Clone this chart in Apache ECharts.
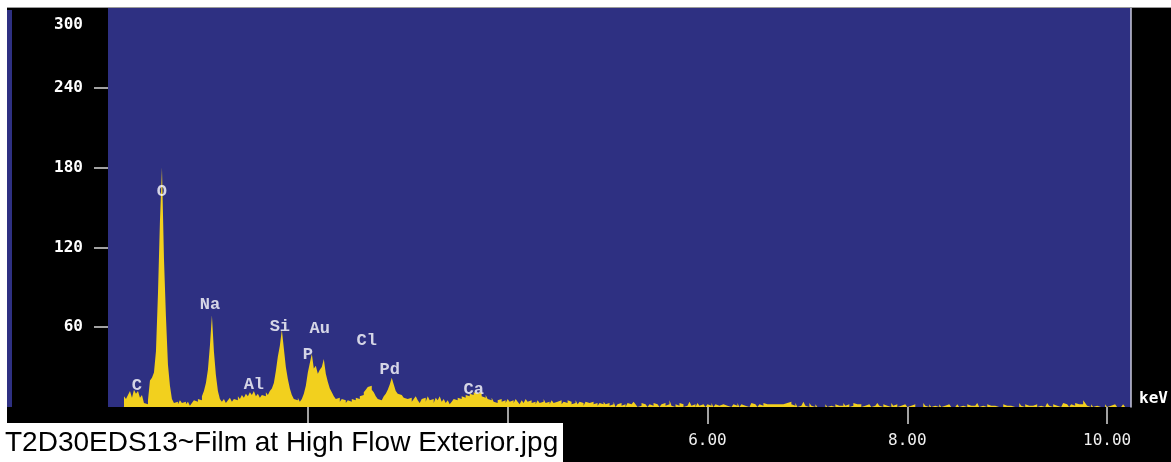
<!DOCTYPE html>
<html>
<head>
<meta charset="utf-8">
<script src="https://cdn.jsdelivr.net/npm/echarts@6/dist/echarts.min.js"></script>
<style>
html,body{margin:0;padding:0;background:#ffffff;}
#chart{width:1171px;height:462px;}
</style>
</head>
<body>
<div id="chart"></div>
<script>
// ---- data ----
const binWidth = 0.02;   // keV per channel
const binStart = 0.0;    // keV of first channel
const counts = [
  // 0.00 - 0.48
  0,0,0,0,0,0,0,0,8,6,9,12,7,13,10,12,7,9,3,2,5,20,22,26,42,
  // 0.50 - 0.98
  85,140,180,112,68,32,16,6,3,4,2,5,3,4,2,4,1,3,5,4,6,5,8,12,18,
  // 1.00 - 1.48
  28,46,69,42,24,12,6,4,6,3,5,7,4,6,5,8,6,9,7,10,8,11,9,12,8,
  // 1.50 - 1.98
  10,7,9,8,11,9,12,14,18,27,38,46,58,44,30,21,14,9,6,5,7,4,6,10,16,
  // 2.00 - 2.48
  26,33,40,29,31,25,28,30,36,25,19,14,11,8,6,7,4,6,5,3,5,4,6,5,7,
  // 2.50 - 2.98
  6,8,9,11,13,15,16,13,11,8,6,5,6,8,10,13,17,22,17,12,10,9,8,7,6,
  // 3.00 - 3.48
  5,7,4,6,8,5,3,6,7,4,8,5,6,3,7,5,8,4,6,3,5,2,4,6,5,
  // 3.50 - 3.98
  7,6,8,7,9,8,10,9,11,10,9,11,8,7,9,6,5,7,4,3,5,6,4,5,3,
  // 4.00 - 4.48
  6,4,5,3,6,4,2,5,3,6,4,5,3,4,2,5,3,4,6,3,4,2,5,3,4,
  // 4.50 - 4.98
  3,5,2,4,3,5,4,2,3,5,2,4,3,1,4,3,2,4,2,3,1,3,2,4,2,
  // 5.00 - 5.48
  3,1,2,4,0,2,3,1,2,0,3,2,1,4,2,0,1,3,2,1,0,2,1,3,2,
  // 5.50 - 5.98
  1,0,2,3,1,2,5,1,0,2,1,3,2,0,1,2,4,1,2,0,3,1,2,1,0,
  // 6.00 - 6.48
  2,1,3,0,2,1,0,2,3,1,2,0,1,2,1,3,0,2,1,2,0,1,3,2,1,
  // 6.50 - 6.98
  0,2,1,3,2,1,2,3,2,1,2,3,2,1,3,2,4,2,1,3,0,1,2,4,1,
  // 7.00 - 7.48
  0,3,1,0,2,0,0,1,0,2,0,1,0,0,2,1,0,1,3,1,2,0,1,3,2,
  // 7.50 - 7.98
  1,2,0,1,0,2,1,0,1,0,3,1,0,2,1,0,0,3,1,2,0,1,0,2,1,
  // 8.00 - 8.48
  0,1,0,2,0,0,1,0,3,1,0,2,0,1,0,0,2,0,1,0,2,1,0,0,1,
  // 8.50 - 8.98
  2,0,1,0,0,2,1,0,1,0,3,0,1,0,0,2,1,0,1,2,0,1,0,2,1,
  // 9.00 - 9.48
  0,1,2,0,1,0,3,1,0,2,1,0,1,0,2,0,1,2,0,1,3,1,0,2,1,
  // 9.50 - 9.98
  2,0,1,3,2,1,0,2,1,3,2,1,2,5,3,1,0,2,0,1,0,0,1,0,2,
  // 10.00 - 10.22
  0,1,0,2,1,0,0,1,2,0,1,0
];

const elemNames  = ['C', 'O', 'Na', 'Al', 'Si', 'P', 'Au', 'Cl', 'Pd', 'Ca'];
const elemKeV    = [0.29, 0.54, 1.02, 1.46, 1.72, 2.00, 2.12, 2.59, 2.82, 3.66];
const elemCounts = [16, 162, 77, 17, 60, 39, 59, 50, 28, 13];

const yTickLabels = [60, 120, 180, 240, 300];
const yTickMarks  = [60, 120, 180, 240];
const xTickMarks  = [2, 4, 6, 8, 10];
const xTickLabels = [6, 8, 10];
const xMax = 10.24;
const yMax = 300;
const caption = 'T2D30EDS13~Film at High Flow Exterior.jpg';

// ---- build ----
const spectrum = counts.map((c, i) => [binStart + i * binWidth, c]);
spectrum.push([binStart + counts.length * binWidth, counts[counts.length - 1]]);
const elemData = elemNames.map((n, i) => ({ name: n, value: [elemKeV[i], elemCounts[i]] }));

const chart = echarts.init(document.getElementById('chart'), null, { renderer: 'canvas' });
const YELLOW = '#f2d01e';
const BLUE = '#2e3082';

chart.setOption({
  animation: false,
  backgroundColor: '#000000',
  grid: {
    left: 108, right: 39, top: 8, bottom: 55,
    show: true, backgroundColor: BLUE, borderWidth: 0
  },
  xAxis: {
    type: 'value', min: 0, max: xMax, interval: 2,
    name: 'keV', nameLocation: 'end', nameGap: 8,
    nameTextStyle: { color: '#ffffff', fontFamily: 'DejaVu Sans Mono', fontWeight: 'bold', fontSize: 16, verticalAlign: 'bottom' },
    axisLine: { show: false },
    splitLine: { show: false },
    axisTick: { show: true, customValues: xTickMarks, length: 17, lineStyle: { color: '#d8d8d8', width: 1.5 } },
    axisLabel: {
      show: true, customValues: xTickLabels, margin: 26,
      color: '#f0f0f0', fontFamily: 'DejaVu Sans Mono', fontSize: 16,
      formatter: v => v.toFixed(2)
    }
  },
  yAxis: [{
    type: 'value', min: 0, max: yMax, interval: 60,
    axisLine: { show: false },
    splitLine: { show: false },
    axisTick: { show: true, customValues: yTickMarks, length: 14, lineStyle: { color: '#d8d8d8', width: 1.5 } },
    axisLabel: {
      show: true, customValues: yTickLabels, margin: 25,
      color: '#ffffff', fontFamily: 'DejaVu Sans Mono', fontWeight: 'bold', fontSize: 16,
      formatter: v => v === yMax ? '{t|' + v + '}' : String(v),
      rich: { t: { color: '#ffffff', fontFamily: 'DejaVu Sans Mono', fontWeight: 'bold', fontSize: 16, padding: [34, 0, 0, 0] } }
    }
  }, {
    type: 'value', min: 0, max: yMax, position: 'right',
    axisLine: { show: true, lineStyle: { color: '#c8c8d8', width: 1.5 } },
    axisTick: { show: false }, axisLabel: { show: false }, splitLine: { show: false }
  }],
  series: [{
    type: 'line',
    step: 'end',
    data: spectrum,
    symbol: 'none',
    lineStyle: { color: YELLOW, width: 0 },
    areaStyle: { color: YELLOW, opacity: 1 },
    z: 2
  }, {
    type: 'scatter',
    data: elemData,
    symbolSize: 0,
    label: {
      show: true, position: 'inside', formatter: '{b}',
      color: '#ffffff', fontFamily: 'Liberation Mono', fontWeight: 'bold', fontSize: 17
    },
    z: 3
  }],
  graphic: [
    { type: 'rect', shape: { x: 0, y: 0, width: 1171, height: 7 }, style: { fill: '#ffffff' }, z: 100 },
    { type: 'rect', shape: { x: 0, y: 7, width: 1171, height: 1 }, style: { fill: '#9a9a9a' }, z: 100 },
    { type: 'rect', shape: { x: 0, y: 0, width: 7, height: 462 }, style: { fill: '#ffffff' }, z: 100 },
    { type: 'rect', shape: { x: 7, y: 10, width: 5, height: 397 }, style: { fill: BLUE }, z: 100 },
    { type: 'rect', shape: { x: 0, y: 423, width: 563, height: 39 }, style: { fill: '#ffffff' }, z: 100 },
    { type: 'text', x: 5, y: 443, style: { text: caption, fill: '#000000', font: '28px "Liberation Sans", Arial, sans-serif', verticalAlign: 'middle' }, z: 101 }
  ]
});
</script>
</body>
</html>
